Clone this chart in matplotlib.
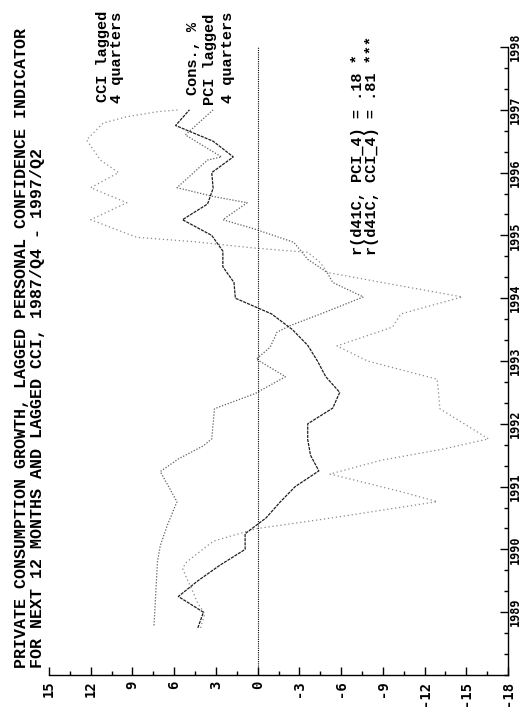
import numpy as np
import matplotlib
matplotlib.use("Agg")
import matplotlib.pyplot as plt
from matplotlib.ticker import MultipleLocator, FixedLocator

# Private consumption growth (d41C), quarterly, %
cons_t = np.arange(1988.75, 1997.01, 0.25)
cons_v = [4.3, 3.9, 5.7, 4.3, 2.7, 0.9, 0.9, -0.6, -1.6, -2.7, -4.4, -3.8,
          -3.6, -3.6, -5.4, -5.9, -4.9, -4.3, -3.6, -2.5, -1.0, 1.6, 1.7, 2.5,
          2.5, 3.3, 5.4, 3.6, 3.2, 3.3, 1.75, 3.2, 5.9, 4.9]

# Personal confidence indicator, lagged 4 quarters
pci_t = [1988.79, 1989.81, 1990.06, 1990.38, 1990.76, 1991.24, 1991.44, 1991.65,
         1991.76, 1992.24, 1992.48, 1992.75, 1993.03, 1993.22, 1993.46, 1993.56,
         1993.79, 1994.02, 1994.25, 1994.41, 1994.62, 1994.89, 1995.10, 1995.25,
         1995.52, 1995.62, 1995.76, 1996.20, 1996.25, 1996.60, 1997.00]
pci_v = [7.45, 7.2, 7.0, 6.5, 5.8, 7.0, 5.7, 3.9,
         3.3, 3.1, 0.2, -2.0, 0.1, -0.9, -1.4, -2.3,
         -5.0, -7.6, -5.4, -5.0, -3.6, -2.6, 0.2, 2.5,
         0.75, 3.2, 5.8, 3.6, 2.6, 5.2, 3.2]

# Consumer confidence indicator, lagged 4 quarters
cci_t = [1988.75, 1988.98, 1989.14, 1989.35, 1989.54, 1989.70, 1989.80, 1990.13,
         1990.33, 1990.49, 1990.76, 1990.92, 1991.20, 1991.42, 1991.60, 1991.76,
         1992.24, 1992.52, 1992.71, 1993.00, 1993.24, 1993.54, 1993.75, 1994.02,
         1994.22, 1994.41, 1994.57, 1994.73, 1994.80, 1994.90, 1994.97, 1995.25,
         1995.52, 1995.76, 1996.00, 1996.20, 1996.52, 1996.79, 1996.89, 1996.97,
         1997.00]
cci_v = [4.1, 3.8, 4.3, 4.7, 5.1, 5.4, 5.1, 3.2,
         0.1, -5.0, -12.9, -10.3, -5.2, -8.9, -13.4, -16.6,
         -13.1, -13.0, -12.9, -7.9, -5.7, -9.7, -10.3, -14.7,
         -9.7, -5.0, -4.5, -3.6, 0.3, 4.6, 8.7, 12.0,
         9.4, 12.0, 10.0, 11.3, 12.3, 11.1, 9.4, 7.2,
         5.6]

value_ticks = [15, 12, 9, 6, 3, 0, -3, -6, -9, -12, -15, -18]
year_ticks = [1989, 1990, 1991, 1992, 1993, 1994, 1995, 1996, 1997, 1998]

title_lines = ["PRIVATE CONSUMPTION GROWTH, LAGGED PERSONAL CONFIDENCE INDICATOR",
               "FOR NEXT 12 MONTHS AND LAGGED CCI, 1987/Q4 - 1997/Q2"]

mono = "Liberation Mono"
tickfont = "DejaVu Sans Mono"

fig = plt.figure(figsize=(5.23, 7.15), dpi=100)
W, H = 523, 715
# the chart is laid on its side: values run across, time runs up
ax = fig.add_axes([49 / W, (H - 675) / H, (508 - 49) / W, (675 - 47) / H])

ax.plot(cci_v, cci_t, color="#8a8a8a", lw=0.9, ls=(0, (1, 2.2)))
ax.plot(pci_v, pci_t, color="#5e5e5e", lw=0.9, ls=(0, (1, 1.4)))
ax.plot(cons_v, cons_t, color="#1e1e1e", lw=0.9, ls=(0, (2.5, 0.8)))
ax.axvline(0, color="black", lw=0.8, ls=(0, (1, 1)))

ax.set_xlim(15, -18)
ax.set_ylim(1988, 1998)

for side in ("top", "left"):
    ax.spines[side].set_visible(False)
for side in ("bottom", "right"):
    ax.spines[side].set_linewidth(1.0)

ax.xaxis.set_major_locator(FixedLocator(value_ticks))
ax.xaxis.set_minor_locator(MultipleLocator(1.5))
ax.set_xticklabels([str(v) for v in value_ticks], rotation=90, fontfamily=tickfont,
                   fontweight="bold", fontsize=10, va="top", ha="center")
ax.tick_params(axis="x", which="major", direction="in", length=6, width=1, pad=4)
ax.tick_params(axis="x", which="minor", direction="in", length=3, width=1)

ax.yaxis.tick_right()
ax.yaxis.set_major_locator(FixedLocator(year_ticks))
ax.yaxis.set_minor_locator(MultipleLocator(1 / 3))
ax.set_yticklabels([str(y) for y in year_ticks], rotation=90, fontfamily=tickfont,
                   fontweight="bold", fontsize=8.5, va="center", ha="center")
ax.tick_params(axis="y", which="major", direction="in", length=6, width=1, pad=5)
ax.tick_params(axis="y", which="minor", direction="in", length=3, width=1)

# title, rotated along the left edge
fig.text(22 / W, 1 - 668 / H, title_lines[0], rotation=90, fontfamily=mono,
         fontweight="bold", fontsize=12, ha="center", va="bottom")
fig.text(38 / W, 1 - 668 / H, title_lines[1], rotation=90, fontfamily=mono,
         fontweight="bold", fontsize=12, ha="center", va="bottom")

# series labels and correlations
notes = [(103, 102, "CCI lagged"), (117, 103, "4 quarters"),
         (193, 95, "Cons., %"), (210, 105, "PCI lagged"), (228, 103, "4 quarters"),
         (358, 255, "r(d41C, PCI_4) = .18 *"), (372, 255, "r(d41C, CCI_4) = .81 ***")]
for x, y, s in notes:
    fig.text(x / W, 1 - y / H, s, rotation=90, fontfamily=mono, fontweight="bold",
             fontsize=11, ha="center", va="bottom")

fig.savefig("out.png", dpi=100)
